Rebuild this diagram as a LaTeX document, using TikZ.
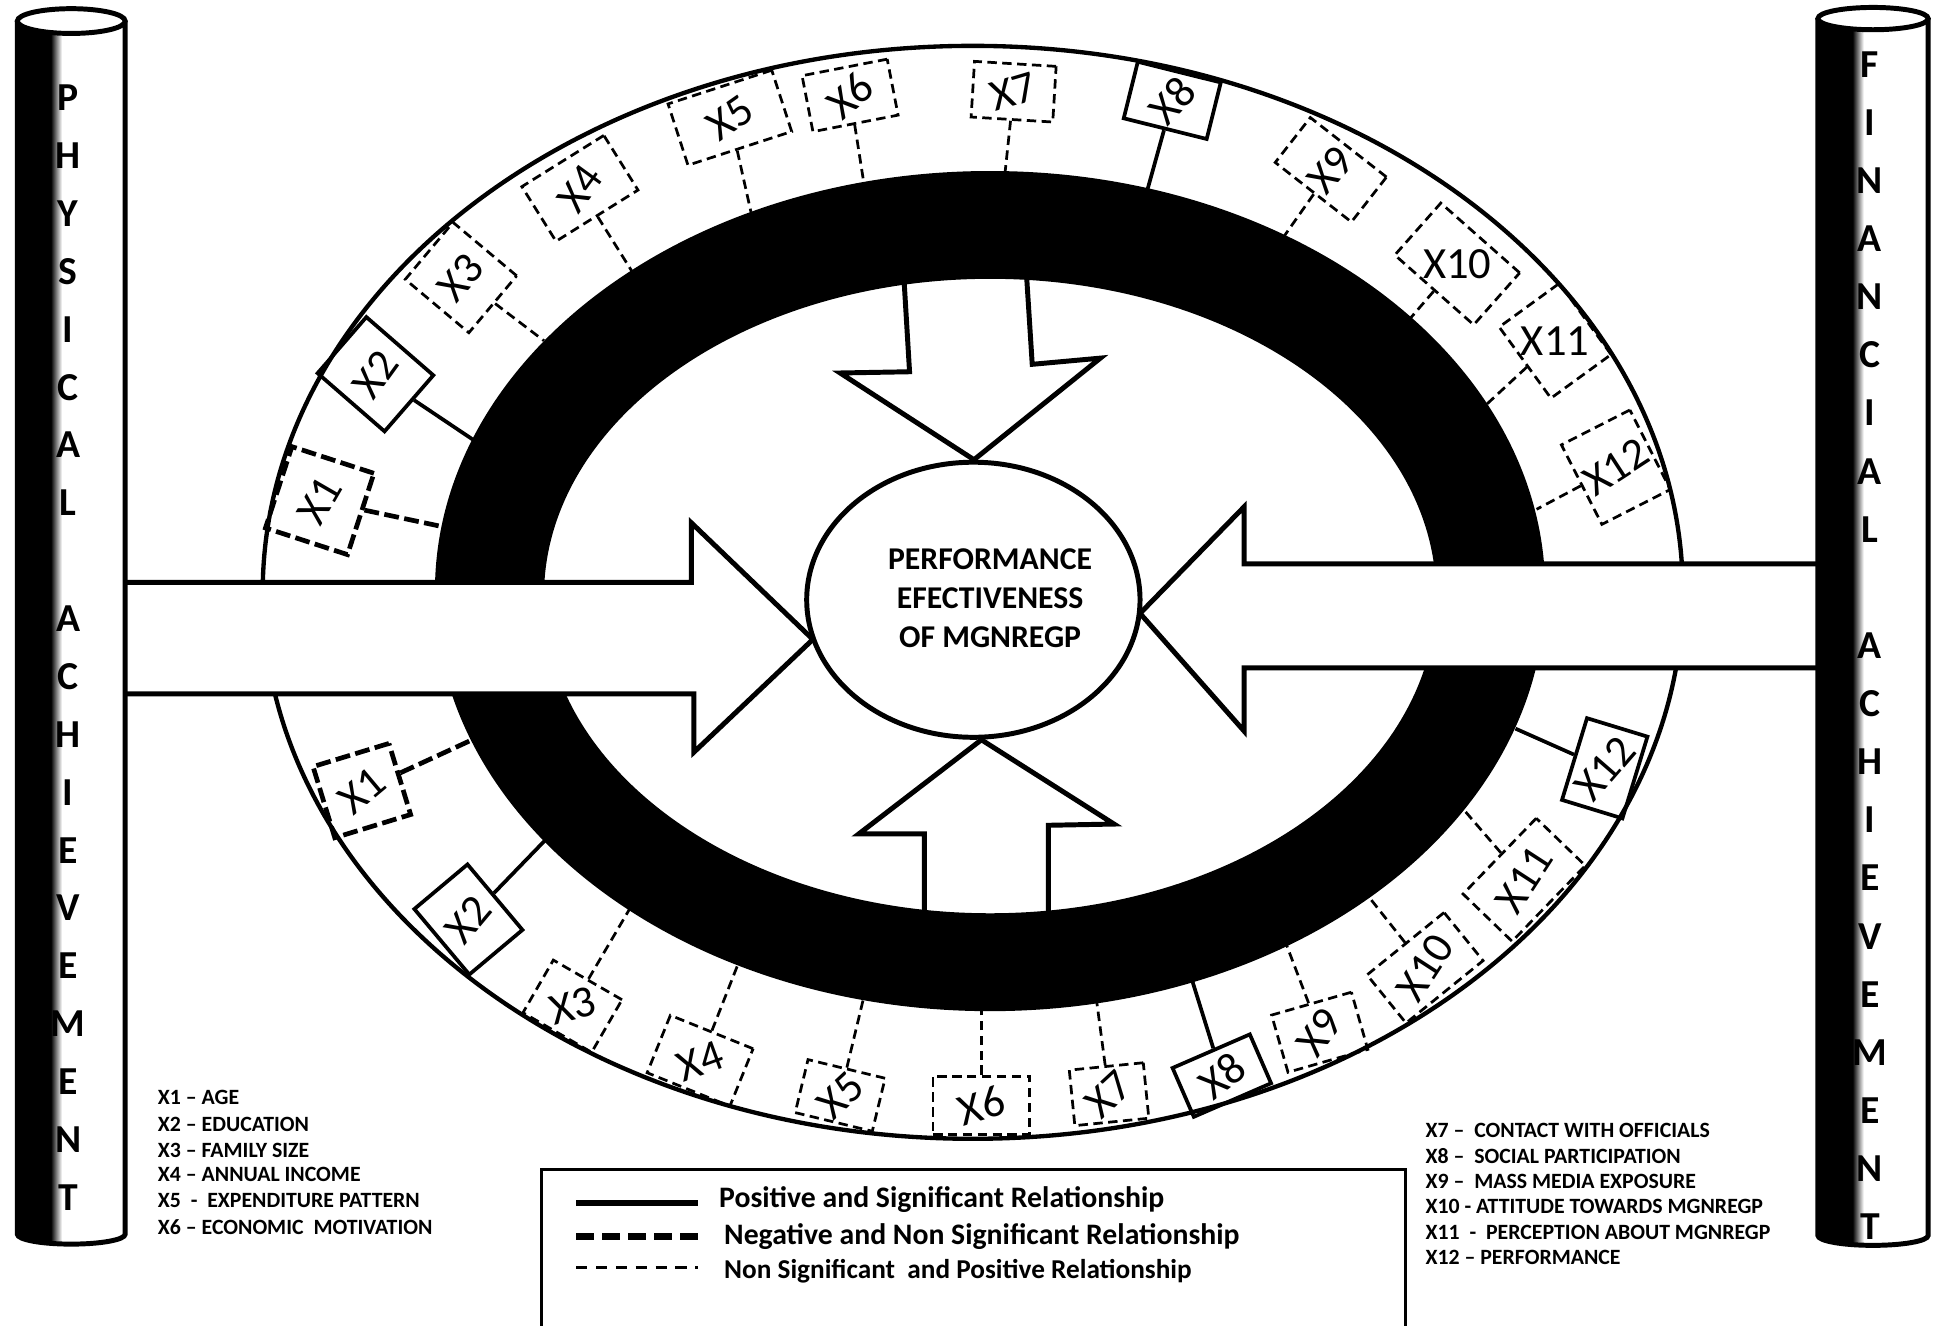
\documentclass[tikz,border=0pt]{standalone}
\usepackage{fontspec}
\setmainfont{Carlito}
\usepackage{graphicx}
\usetikzlibrary{shapes.geometric}
\newcommand\xcall[9]{%
  \node[xbox, draw, #2, minimum width=#6, minimum height=#7, rotate=#5] (#1) at (#3,#4) {\rotatebox{#8}{#9}};}
\begin{document}
\begin{tikzpicture}[x=0.5pt,y=-0.5pt,
  thinl/.style={line width=1.1pt, dash pattern=on 3.8pt off 2.2pt},
  thickl/.style={line width=1.9pt, dash pattern=on 6pt off 2.2pt},
  solidl/.style={line width=1.5pt},
  xbox/.style={rectangle, inner sep=0pt, font=\fontsize{18}{18}\selectfont},
  blockarrow/.style={draw=black, fill=white, line width=2pt, line join=miter},
  cylletter/.style={font=\bfseries\fontsize{16}{16}\selectfont, inner sep=0pt},
  defn/.style={font=\bfseries\fontsize{8.8}{10}\selectfont, anchor=west, inner sep=0pt},
  legtext/.style={font=\bfseries\fontsize{12}{12}\selectfont, anchor=west, inner sep=0pt},
  cylline/.style={line width=2pt},
]
\useasboundingbox (0,0) rectangle (1568,1070);
\fill[white] (0,0) rectangle (1568,1070);

% outer ring line
\draw[line width=1.75pt] (785,478) ellipse [x radius=573, y radius=441];

% vertical block arrows (their stems start under the band)
\draw[blockarrow] (728,200) -- (734,300) -- (678,301) -- (786,371) -- (888,289) -- (833,294) -- (827,200);
\draw[blockarrow] (746,760) -- (746,673) -- (693,673) -- (792,597) -- (899,665) -- (846,666) -- (846,760);

% black band
\fill[black, even odd rule] (799,477) ellipse [x radius=448, y radius=339] (799,481) ellipse [x radius=360, y radius=256];

% connector end points on the band
\coordinate (et1) at (357,425);  \coordinate (et2) at (382,355);  \coordinate (et3) at (439,275);
\coordinate (et4) at (510,219);  \coordinate (et5) at (606,171);  \coordinate (et6) at (697,147);
\coordinate (et7) at (811,140);  \coordinate (et8) at (926,153);  \coordinate (et9) at (1036,191);
\coordinate (et10) at (1138,257); \coordinate (et11) at (1200,326); \coordinate (et12) at (1240,411);
\coordinate (eb1) at (381,597);  \coordinate (eb2) at (440,678);  \coordinate (eb3) at (509,732);
\coordinate (eb4) at (596,777);  \coordinate (eb5) at (697,805);  \coordinate (eb6) at (792,814);
\coordinate (eb7) at (885,808);  \coordinate (eb8) at (962,791);  \coordinate (eb9) at (1038,762);
\coordinate (eb10) at (1104,723); \coordinate (eb11) at (1180,652); \coordinate (eb12) at (1223,588);

% upper callouts
\xcall{t1}{thickl}{258}{404}{-18}{34.8pt}{34.5pt}{78}{X1}
\xcall{t2}{solidl}{303}{302}{-41}{35.8pt}{30pt}{95}{X2}
\xcall{t3}{thinl}{372}{224}{-40}{33.5pt}{30pt}{89}{X3}
\xcall{t4}{thinl}{468}{152}{32}{39pt}{26pt}{22}{X4}
\xcall{t5}{thinl}{589}{95}{18}{44pt}{26pt}{17}{X5}
\xcall{t6}{thinl}{686}{77}{11}{35pt}{23pt}{29}{X6}
\xcall{t7}{thinl}{818}{74}{-3.5}{33pt}{22.5pt}{20}{X7}
\xcall{t8}{solidl}{946}{81}{-14}{34.5pt}{23.5pt}{61}{X8}
\xcall{t9}{thinl}{1074}{137}{-38}{39pt}{23pt}{87}{X9}
\xcall{t10}{thinl}{1176}{213}{-41.5}{42.5pt}{28pt}{41.5}{X10}
\xcall{t11}{thinl}{1255}{275}{-54}{35.5pt}{30pt}{54}{X11}
\xcall{t12}{thinl}{1304}{377}{27}{31pt}{36pt}{6}{X12}
\draw[thickl] (t1) -- (et1);
\draw[solidl] (t2) -- (et2);
\draw[thinl] (t3) -- (et3);
\draw[thinl] (t4) -- (et4);
\draw[thinl] (t5) -- (et5);
\draw[thinl] (t6) -- (et6);
\draw[thinl] (t7) -- (et7);
\draw[solidl] (t8) -- (et8);
\draw[thinl] (t9) -- (et9);
\draw[thinl] (t10) -- (et10);
\draw[thinl] (t11) -- (et11);
\draw[thinl] (t12) -- (et12);

% lower callouts
\xcall{b1}{thickl}{292}{638}{17}{32pt}{30pt}{23}{X1}
\xcall{b2}{solidl}{378}{742}{40}{28pt}{34.5pt}{10}{X2}
\xcall{b3}{thinl}{462}{812}{-30}{32pt}{24.5pt}{45}{X3}
\xcall{b4}{thinl}{565}{856}{-22}{36pt}{25pt}{42}{X4}
\xcall{b5}{thinl}{678}{884}{-13.6}{32pt}{22pt}{56.6}{X5}
\xcall{b6}{thinl}{792}{892}{0}{39pt}{23.5pt}{17}{X6}
\xcall{b7}{thinl}{895}{883}{5.7}{30pt}{22.5pt}{37}{X7}
\xcall{b8}{solidl}{986}{868}{23.5}{34pt}{21.5pt}{14.5}{X8}
\xcall{b9}{thinl}{1065}{833}{16}{33.5pt}{24pt}{38}{X9}
\xcall{b10}{thinl}{1150}{781}{39}{40pt}{25pt}{18}{X10}
\xcall{b11}{thinl}{1230}{710}{46}{42.5pt}{27.5pt}{11}{X11}
\xcall{b12}{solidl}{1295}{620}{-17}{25.5pt}{34.5pt}{66}{X12}
\draw[thickl] (b1) -- (eb1);
\draw[solidl] (b2) -- (eb2);
\draw[thinl] (b3) -- (eb3);
\draw[thinl] (b4) -- (eb4);
\draw[thinl] (b5) -- (eb5);
\draw[thinl] (b6) -- (eb6);
\draw[thinl] (b7) -- (eb7);
\draw[solidl] (b8) -- (eb8);
\draw[thinl] (b9) -- (eb9);
\draw[thinl] (b10) -- (eb10);
\draw[thinl] (b11) -- (eb11);
\draw[solidl] (b12) -- (eb12);

% horizontal block arrows
\draw[blockarrow] (100,470) -- (558,470) -- (558,422) -- (656,516) -- (560,607) -- (560,560) -- (100,560);
\draw[blockarrow] (1470,455) -- (1004,455) -- (1004,409) -- (920,495) -- (1004,590) -- (1004,539) -- (1470,539);

% centre
\node[draw, ellipse, line width=2pt, fill=white, minimum width=134.5pt, minimum height=111pt, inner sep=0pt] (perf) at (785.5,484) {};
\node[align=center, font=\bfseries\fontsize{12.8}{15.8}\selectfont, inner sep=0pt] (perftext) at (799,483) {PERFORMANCE\\EFECTIVENESS\\OF MGNREGP};

% left cylinder
\begin{scope}
\clip (14,17) -- (14,996) arc[start angle=180, end angle=0, x radius=43.5, y radius=8] -- (101,17) -- cycle;
\fill[white] (0,0) rectangle (120,1020);
\fill[black] (0,0) rectangle (41,1020);
\shade[left color=black, right color=white] (41,0) rectangle (50,1020);
\end{scope}
\draw[cylline] (14,17) -- (14,996) arc[start angle=180, end angle=0, x radius=43.5, y radius=8] -- (101,17);
\draw[cylline, fill=white] (57.5,17) ellipse [x radius=43.5, y radius=10];
\foreach \ch/\k in {P/0,H/1,Y/2,S/3,I/4,C/5,A/6,L/7,A/9,C/10,H/11,I/12,E/13,V/14,E/15,M/16,E/17,N/18,T/19}
  \node[cylletter] (pl\k) at (55,{79+46.7*\k}) {\ch};

% right cylinder
\begin{scope}
\clip (1467,15) -- (1467,997) arc[start angle=180, end angle=0, x radius=44.5, y radius=8] -- (1556,15) -- cycle;
\fill[white] (1450,0) rectangle (1568,1020);
\fill[black] (1450,0) rectangle (1495,1020);
\shade[left color=black, right color=white] (1495,0) rectangle (1504,1020);
\end{scope}
\draw[cylline] (1467,15) -- (1467,997) arc[start angle=180, end angle=0, x radius=44.5, y radius=8] -- (1556,15);
\draw[cylline, fill=white] (1511.5,15) ellipse [x radius=44.5, y radius=9];
\foreach \ch/\k in {F/0,I/1,N/2,A/3,N/4,C/5,I/6,A/7,L/8,A/10,C/11,H/12,I/13,E/14,V/15,E/16,M/17,E/18,N/19,T/20}
  \node[cylletter] (fr\k) at (1509,{52+46.9*\k}) {\ch};

% definitions
\node[defn] (dl1) at (127,886) {X1 – AGE};
\node[defn] (dl2) at (127,907) {X2 – EDUCATION};
\node[defn] (dl3) at (127,928) {X3 – FAMILY SIZE};
\node[defn] (dl4) at (127,948) {X4 – ANNUAL INCOME};
\node[defn] (dl5) at (127,969) {X5 \ -\ \ EXPENDITURE PATTERN};
\node[defn] (dl6) at (127,990) {X6 – ECONOMIC \ MOTIVATION};
\node[defn] (dr1) at (1150,912) {X7 – \ CONTACT WITH OFFICIALS};
\node[defn] (dr2) at (1150,932.6) {X8 – \ SOCIAL PARTICIPATION};
\node[defn] (dr3) at (1150,953.2) {X9 – \ MASS MEDIA EXPOSURE};
\node[defn] (dr4) at (1150,973.8) {X10 - ATTITUDE TOWARDS MGNREGP};
\node[defn] (dr5) at (1150,994.4) {X11 \ - \ PERCEPTION ABOUT MGNREGP};
\node[defn] (dr6) at (1150,1015) {X12 – PERFORMANCE};

% legend
\draw[line width=1.1pt] (437,1075) -- (437,944) -- (1134,944) -- (1134,1075);
\coordinate (l1a) at (465,971); \coordinate (l1b) at (563,971);
\coordinate (l2a) at (465,998); \coordinate (l2b) at (563,998);
\coordinate (l3a) at (465,1023); \coordinate (l3b) at (563,1023);
\draw[line width=2.6pt] (l1a) -- (l1b);
\draw[line width=2.6pt, dash pattern=on 7pt off 3.5pt] (l2a) -- (l2b);
\draw[line width=1.2pt, dash pattern=on 4.5pt off 3.5pt] (l3a) -- (l3b);
\node[legtext] (lt1) at (580,968) {Positive and Significant Relationship};
\node[legtext] (lt2) at (584,998) {Negative and Non Significant Relationship};
\node[legtext, font=\bfseries\fontsize{11}{11}\selectfont] (lt3) at (584,1026) {Non Significant \ and Positive Relationship};
\end{tikzpicture}
\end{document}
